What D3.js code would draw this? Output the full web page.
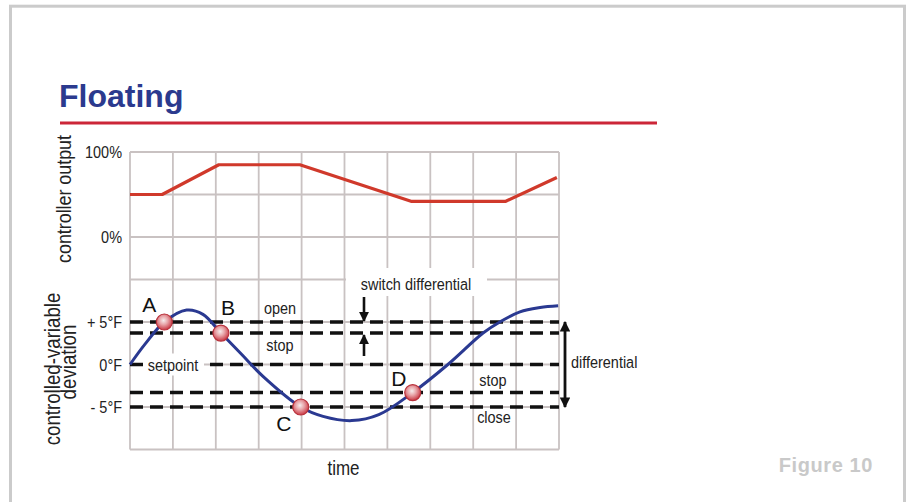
<!DOCTYPE html>
<html><head><meta charset="utf-8">
<script src="https://cdn.jsdelivr.net/npm/d3@7"></script>
<style>
html,body{margin:0;padding:0;background:#fff;}
svg{display:block;}
</style></head>
<body>
<script>
// ---------- data ----------
const timeTicks = [0,1,2,3,4,5,6,7,8,9,10];
const outputTicks = [100, 50, 0];
const outputTickLabels = ["100%", "", "0%"];
const deviationTicks = [10, 5, 0, -5, -10];
const deviationTickLabels = ["", "+ 5°F", "0°F", "- 5°F", ""];
// controller output (percent) vs time
const outputTime = [0, 0.75, 2.07, 3.96, 6.55, 8.76, 9.95];
const outputPct  = [50, 50, 85, 85, 42, 42, 70];
// controlled variable deviation (°F) vs time
const devTime = [0, 0.35, 0.8, 1.32, 1.7, 2.12, 2.6, 3.1, 3.98, 4.5, 5.17, 5.8, 6.59, 7.41, 8.23, 8.62, 9.09, 9.56, 9.98];
const devF    = [0, 2.4, 5, 6.4, 5.9, 3.7, 1.2, -1.4, -5, -6.1, -6.6, -5.9, -3.3, 0, 3.7, 5, 6.2, 6.7, 6.9];
// switch levels (°F)
const levelValues = [5, 3.7, 0, -3.3, -5];
// switching points
const markerNames = ["A", "B", "C", "D"];
const markerTime  = [0.8, 2.12, 3.98, 6.59];
const markerF     = [5, 3.7, -5, -3.3];

const W = 909, H = 502;
const svg = d3.select("body").append("svg").attr("width", W).attr("height", H);
const sans = "'Liberation Sans',Arial,Helvetica,sans-serif";
const SX = 0.85; // condensed look

// condensed text helper
function ctext(parent, tx, ty, s, size, anchor, rot) {
  return parent.append("text")
    .attr("transform", `translate(${tx},${ty})${rot ? " rotate(" + rot + ")" : ""} scale(${SX},1)`)
    .attr("text-anchor", anchor || "middle").attr("font-family", sans)
    .attr("font-size", size).attr("fill", "#222").text(s);
}

// frame
svg.append("rect").attr("x", 10.5).attr("y", 6.2).attr("width", 894).attr("height", 520)
  .attr("fill", "none").attr("stroke", "#cbcbcb").attr("stroke-width", 3);

// title
svg.append("text").attr("x", 59).attr("y", 107).text("Floating")
  .attr("font-family", sans).attr("font-weight", "bold")
  .attr("font-size", 32).attr("fill", "#2b3a8e");
svg.append("line").attr("x1", 60).attr("x2", 657).attr("y1", 123).attr("y2", 123)
  .attr("stroke", "#cc2638").attr("stroke-width", 3.2);

// scales
const x = d3.scaleLinear().domain([0, 10]).range([130, 559]);
const yOut = d3.scaleLinear().domain([0, 100]).range([237, 152]);
const yDev = d3.scaleLinear().domain([-5, 5]).range([407, 322]);

const gridTop = yOut(100), gridBot = yDev(-10);

// grid
const grid = svg.append("g").attr("stroke", "#c9c2c2").attr("stroke-width", 1.8);
grid.selectAll("line.v").data(timeTicks).join("line")
  .attr("x1", d => x(d)).attr("x2", d => x(d)).attr("y1", gridTop).attr("y2", gridBot);
grid.selectAll("line.ho").data(outputTicks).join("line")
  .attr("x1", x(0)).attr("x2", x(10)).attr("y1", d => yOut(d)).attr("y2", d => yOut(d));
grid.selectAll("line.hd").data(deviationTicks).join("line")
  .attr("x1", x(0)).attr("x2", x(10)).attr("y1", d => yDev(d)).attr("y2", d => yDev(d));

// tick labels
const tg = svg.append("g");
outputTicks.forEach((d, i) => ctext(tg, 122, yOut(d) + 6, outputTickLabels[i], 17, "end"));
deviationTicks.forEach((d, i) => ctext(tg, 122, yDev(d) + 6, deviationTickLabels[i], 17, "end"));

// axis titles
ctext(svg, 71, 199, "controller output", 21, "middle", -90);
ctext(svg, 60, 369, "controlled-variable", 22, "middle", -90);
ctext(svg, 76, 362, "deviation", 22, "middle", -90);
ctext(svg, (x(0) + x(10)) / 2 - 1, 475, "time", 20, "middle");

// controller output line
const outData = outputTime.map((t, i) => [t, outputPct[i]]);
svg.append("path").datum(outData)
  .attr("d", d3.line().x(d => x(d[0])).y(d => yOut(d[1])))
  .attr("fill", "none").attr("stroke", "#d0392b").attr("stroke-width", 3.2).attr("stroke-linejoin", "round");

// switch-differential label box
svg.append("rect").attr("x", 346).attr("y", 268).attr("width", 141).attr("height", 28).attr("fill", "#fff");
ctext(svg, 416, 290, "switch differential", 17, "middle");

// dashed levels
svg.append("g").selectAll("line").data(levelValues).join("line")
  .attr("x1", x(0)).attr("x2", x(10)).attr("y1", d => yDev(d)).attr("y2", d => yDev(d))
  .attr("stroke", "#111").attr("stroke-width", 3.6).attr("stroke-dasharray", "13 7");

// setpoint label
svg.append("rect").attr("x", 143).attr("y", yDev(0) - 11).attr("width", 61).attr("height", 22).attr("fill", "#fff");
ctext(svg, 173, yDev(0) + 6, "setpoint", 17, "middle");

// deviation curve
const devData = devTime.map((t, i) => [t, devF[i]]);
svg.append("path").datum(devData)
  .attr("d", d3.line().curve(d3.curveCatmullRom.alpha(0.5)).x(d => x(d[0])).y(d => yDev(d[1])))
  .attr("fill", "none").attr("stroke", "#2a3991").attr("stroke-width", 3);

// level labels
ctext(svg, 280, 314, "open", 17, "middle");
ctext(svg, 280, 351, "stop", 17, "middle");
ctext(svg, 493, 386, "stop", 17, "middle");
ctext(svg, 494, 423, "close", 17, "middle");
ctext(svg, 571, 368, "differential", 17, "start");

// arrows
const defs = svg.append("defs");
defs.append("marker").attr("id", "ah").attr("viewBox", "0 0 10 10").attr("refX", 9).attr("refY", 5)
  .attr("markerWidth", 3.8).attr("markerHeight", 3.8).attr("orient", "auto-start-reverse")
  .append("path").attr("d", "M0,0 L10,5 L0,10 Z").attr("fill", "#111");
svg.append("line").attr("x1", 364).attr("x2", 364).attr("y1", 297).attr("y2", yDev(5) - 1)
  .attr("stroke", "#111").attr("stroke-width", 2.6).attr("marker-end", "url(#ah)");
svg.append("line").attr("x1", 364).attr("x2", 364).attr("y1", 356).attr("y2", yDev(3.7) + 2)
  .attr("stroke", "#111").attr("stroke-width", 2.6).attr("marker-end", "url(#ah)");
svg.append("line").attr("x1", 565).attr("x2", 565).attr("y1", yDev(5)).attr("y2", yDev(-5))
  .attr("stroke", "#111").attr("stroke-width", 2.8)
  .attr("marker-start", "url(#ah)").attr("marker-end", "url(#ah)");

// markers
const grad = defs.append("radialGradient").attr("id", "mg").attr("cx", "45%").attr("cy", "40%").attr("r", "60%");
grad.append("stop").attr("offset", "0%").attr("stop-color", "#f6eded");
grad.append("stop").attr("offset", "45%").attr("stop-color", "#e8a4a8");
grad.append("stop").attr("offset", "100%").attr("stop-color", "#c93844");
const markerOffsets = [[-15, -17], [7, -25], [-17, 17], [-14, -14]];
const mk = svg.append("g");
markerNames.forEach((n, i) => {
  const cx = x(markerTime[i]), cy = yDev(markerF[i]);
  mk.append("circle").attr("cx", cx).attr("cy", cy).attr("r", 8)
    .attr("fill", "url(#mg)").attr("stroke", "#b8323c").attr("stroke-width", 1.2);
  mk.append("text").attr("x", cx + markerOffsets[i][0]).attr("y", cy + markerOffsets[i][1]).attr("dy", "0.35em")
    .attr("text-anchor", "middle").attr("font-family", sans)
    .attr("font-size", 21).attr("fill", "#111").text(n);
});

// figure caption
svg.append("text").attr("x", 873).attr("y", 472).attr("text-anchor", "end")
  .attr("font-family", sans).attr("font-weight", "bold").attr("letter-spacing", 0.6)
  .attr("font-size", 20).attr("fill", "#c9c9c9").text("Figure 10");
</script>
</body></html>
